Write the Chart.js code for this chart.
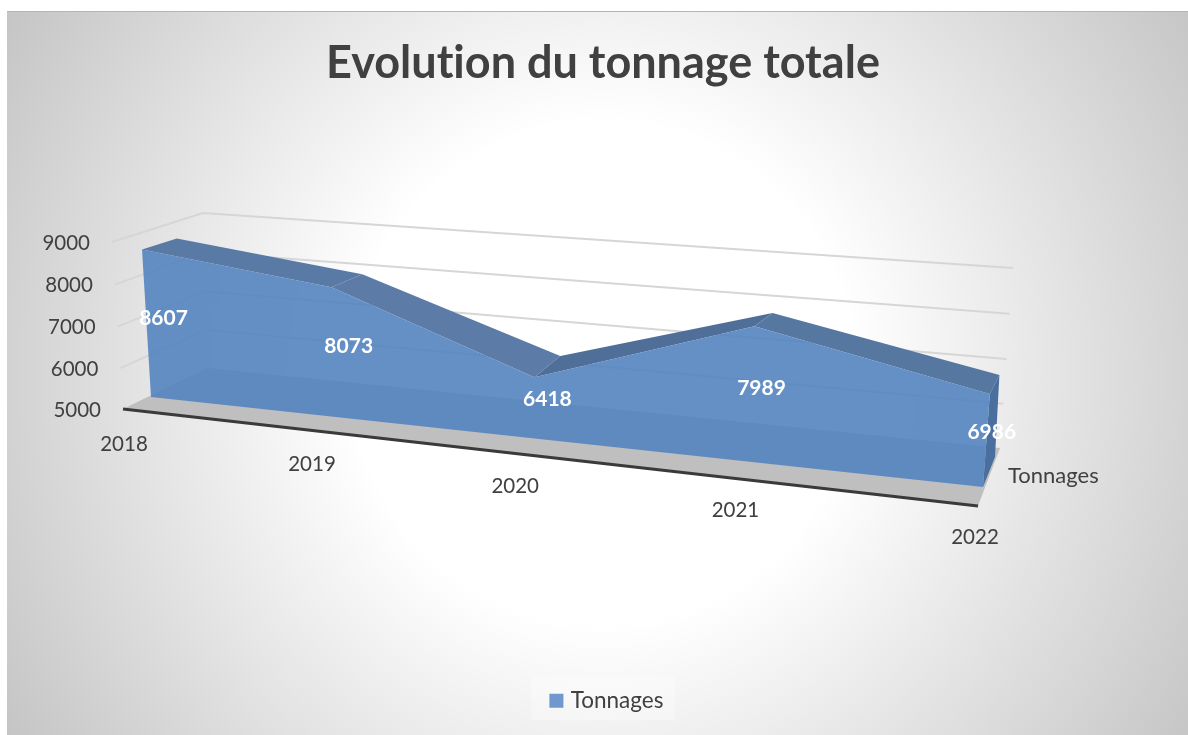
<!DOCTYPE html>
<html><head><meta charset="utf-8">
<style>
html,body{margin:0;padding:0;background:#fff;overflow:hidden;width:1188px;height:735px}
#panel{position:absolute;left:7px;top:11px;width:1181px;height:724px;box-sizing:border-box;border-top:1px solid #b4b4b4;
background:radial-gradient(circle at 596px 361px,#fff 0,#fff 250px,#c2c2c2 720px)}
canvas{position:absolute;left:0;top:0}
</style>
<script src="https://cdn.jsdelivr.net/npm/chart.js@4"></script>
</head><body><div id="panel"></div><canvas id="c" width="1188" height="735"></canvas>
<script>
const years = ['2018','2019','2020','2021','2022'];
const tonnages = [8607,8073,6418,7989,6986];
const tickValues = [5000,6000,7000,8000,9000];
const seriesName = 'Tonnages';
const titleText = 'Evolution du tonnage totale';

// Perspective planes of the 3D view: corners [bottom-left, bottom-right, top-right, top-left]
const planeCorners = {
  box:   [[123,409],[978,506],[992,312],[112,242]],
  front: [[151,397],[983,487],[997,297],[141,233]],
  back:  [[184,370],[995,457],[1004,290],[176,224]],
  wall:  [[207,368],[1000,448],[1013,268],[203,213]]
};
function homography(q){
  const [[x0,y0],[x1,y1],[x2,y2],[x3,y3]] = q;
  const dx1=x1-x2,dx2=x3-x2,dx3=x0-x1+x2-x3,dy1=y1-y2,dy2=y3-y2,dy3=y0-y1+y2-y3;
  const den=dx1*dy2-dx2*dy1, g=(dx3*dy2-dx2*dy3)/den, h=(dx1*dy3-dx3*dy1)/den;
  const a=x1-x0+g*x1,b=x3-x0+h*x3,d=y1-y0+g*y1,e=y3-y0+h*y3;
  return (u,v)=>{const w=g*u+h*v+1;return [(a*u+b*v+x0)/w,(d*u+e*v+y0)/w];};
}
const planes = {};
for (const k in planeCorners) planes[k]=homography(planeCorners[k]);

const FONT = 'Lato';
const base = years[0], last = years[years.length-1], floor = tickValues[0];
const P = (x,y,plane)=>({x,y,plane});
const poly = (label,pts,opts)=>Object.assign({label,data:pts,type:'line',pointRadius:0,borderWidth:0,tension:0,clip:false,fill:'shape',spanGaps:true},opts);

const layers = [];
// floor
layers.push(poly('Sol',[P(base,floor,'box'),P(last,floor,'box'),P(last,floor,'wall'),P(base,floor,'wall')],{backgroundColor:'#bfbfbf',borderColor:'#bfbfbf'}));
layers.push(poly('Bord',[P(base,floor,'box'),P(last,floor,'box')],{fill:false,borderColor:'#3a3a3a',borderWidth:3}));
// gridlines on the side and back walls
tickValues.slice(1).forEach(t=>layers.push(poly('Grille '+t,[P(base,t,'box'),P(base,t,'wall'),P(last,t,'wall')],{fill:false,borderColor:'#d6d6d6',borderWidth:2})));
// top faces of the ribbon
const facetColors=['#5a7aa6','#5c7ba6','#4f6f98','#56779f'];
years.slice(0,-1).forEach((yr,i)=>{
  layers.push(poly('Dessus '+yr,[P(yr,tonnages[i],'front'),P(years[i+1],tonnages[i+1],'front'),P(years[i+1],tonnages[i+1],'back'),P(yr,tonnages[i],'back')],{backgroundColor:facetColors[i],borderColor:facetColors[i]}));
});
// right end face
const lastV=tonnages[tonnages.length-1];
layers.push(poly('Côté',[P(last,lastV,'front'),P(last,lastV,'back'),P(last,floor,'back'),P(last,floor,'front')],{backgroundColor:'#4a6f9e',borderColor:'#4a6f9e'}));
// front face
layers.push(poly(seriesName,[...years.map((yr,i)=>P(yr,tonnages[i],'front')),P(last,floor,'front'),P(base,floor,'front')],{backgroundColor:'rgba(84,132,192,0.9)',borderColor:'rgba(84,132,192,0.9)'}));
layers.forEach((d,i)=>{d.order=layers.length-i;});

function project(chart,xv,yv,plane){
  const a=chart.chartArea, sx=chart.scales.x, sy=chart.scales.y;
  const u=(sx.getPixelForValue(xv)-a.left)/a.width, v=(a.bottom-sy.getPixelForValue(yv))/a.height;
  return planes[plane](u,v);
}
const view3d = {
  id:'view3d',
  afterLayout(chart){
    chart.legend.left+=5.4; chart.legend.right+=5.4;
  },
  afterDatasetsUpdate(chart){
    const a=chart.chartArea;
    chart.data.datasets.forEach((ds,i)=>{
      chart.getDatasetMeta(i).data.forEach((pt,j)=>{
        const u=(pt.x-a.left)/a.width, v=(a.bottom-pt.y)/a.height;
        const [x,y]=planes[ds.data[j].plane](u,v);
        pt.x=x; pt.y=y;
      });
    });
  },
  beforeDraw(chart){
    const ctx=chart.ctx;
    ctx.textRendering='optimizeSpeed';
    ctx.save();
    ctx.fillStyle='rgba(255,255,255,0.3)';
    ctx.fillRect(531,677,144,43);
    ctx.restore();
  },
  afterDatasetsDraw(chart){
    const ctx=chart.ctx;
    ctx.save();
    ctx.textBaseline='middle';
    ctx.font='20.5px '+FONT; ctx.fillStyle='#404040';
    // value axis labels, set just left of the front of the side wall
    ctx.textAlign='right';
    tickValues.forEach(t=>{
      const [x,y]=project(chart,base,t,'box');
      ctx.fillText(String(t),x-22,y+1);
    });
    // category labels below the front edge
    ctx.textAlign='center';
    years.forEach((yr,i)=>{
      const [x,y]=project(chart,yr,floor,'box');
      ctx.fillText(yr,x+1-i,y+35-i);
    });
    // depth axis label
    ctx.textAlign='left';
    ctx.font='22px '+FONT;
    ctx.fillText(seriesName,1008,476);
    // data labels at mid height, mid depth
    ctx.textAlign='center'; ctx.font='bold 21px '+FONT; ctx.fillStyle='#ffffff';
    years.forEach((yr,i)=>{
      const m=(tonnages[i]+floor)/2;
      const f=project(chart,yr,m,'front'), b=project(chart,yr,m,'back');
      ctx.fillText(String(tonnages[i]),(f[0]+b[0])/2,(f[1]+b[1])/2+4);
    });
    ctx.restore();
  }
};

new Chart(document.getElementById('c'),{
  type:'line',
  data:{labels:years,datasets:layers},
  plugins:[view3d],
  options:{
    responsive:false,animation:false,
    layout:{padding:{left:18,right:0,top:0,bottom:13}},
    scales:{
      x:{type:'category',display:false,offset:false},
      y:{type:'linear',display:false,min:tickValues[0],max:tickValues[tickValues.length-1]}
    },
    plugins:{
      title:{display:true,text:titleText,color:'#404040',font:{family:FONT,size:45,weight:'bold'},padding:{top:36,bottom:10}},
      legend:{display:true,position:'bottom',labels:{
        filter:i=>i.text===seriesName,color:'#404040',font:{family:FONT,size:22.5},boxWidth:6,boxHeight:6,padding:10,
        generateLabels(chart){
          return Chart.defaults.plugins.legend.labels.generateLabels(chart).map(it=>Object.assign(it,{fillStyle:'#6f98cd',strokeStyle:'#6f98cd',lineWidth:8}));
        }
      }},
      tooltip:{enabled:false}
    }
  }
});
</script></body></html>
